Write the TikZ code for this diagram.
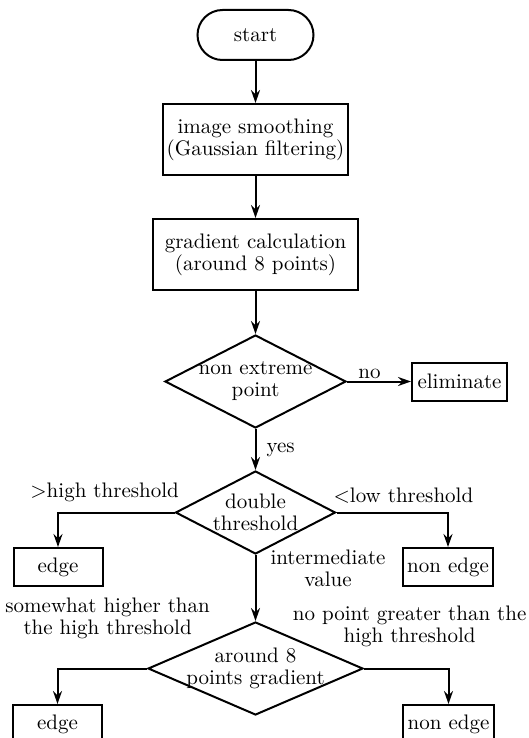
\documentclass[tikz,border=0pt]{standalone}
\usepackage{fontspec}
\usepackage{tikz}
\usetikzlibrary{arrows.meta,positioning,shapes.geometric}
\tikzset{
  term/.style={draw, line width=1pt, rounded corners=12.5pt, minimum width=58pt, minimum height=25pt, inner sep=0pt, align=center},
  procbox/.style={draw, line width=1pt, minimum height=35.5pt, inner sep=2pt, align=center},
  endbox/.style={draw, line width=1pt, minimum height=19pt, inner sep=2pt, align=center},
  decide/.style={draw, line width=1pt, diamond, aspect=2, inner sep=-10pt, align=center},
  arr/.style={-{Stealth[length=6.5pt,width=4.5pt]}, line width=1pt},
  lbl/.style={align=center, inner sep=1pt},
}
\begin{document}
\begin{tikzpicture}[font=\fontsize{10.5}{11}\selectfont, node distance=21pt]
  \useasboundingbox (0,0) rectangle (264.5pt,-369pt);
  \node[term] (start) at (127.75pt,-17.5pt) {start};
  \node[procbox, minimum width=92.5pt, below=of start] (smooth) {image smoothing\\(Gaussian filtering)};
  \node[procbox, minimum width=102.5pt, below=of smooth] (grad) {gradient calculation\\(around 8 points)};
  \node[decide, minimum width=90.5pt, minimum height=46.5pt, below=21.5pt of grad] (extr) {non extreme\\point};
  \node[endbox, minimum width=47.5pt, right=32pt of extr] (elim) {eliminate};
  \node[decide, minimum width=80pt, minimum height=41.5pt, below=20.5pt of extr] (dbl) {double\\threshold};
  \node[decide, minimum width=107.5pt, minimum height=46.5pt, below=33pt of dbl] (nbr) {around 8\\points gradient};
  \node[endbox, minimum width=44.5pt, anchor=north] (edgeA) at (29pt,-273.5pt) {edge};
  \node[endbox, minimum width=45pt, anchor=north] (nonA) at (224pt,-273.5pt) {non edge};
  \node[endbox, minimum width=44.5pt, anchor=north] (edgeB) at (28.75pt,-352pt) {edge};
  \node[endbox, minimum width=45.5pt, anchor=north] (nonB) at (224.25pt,-352pt) {non edge};
  \draw[arr] (start) -- (smooth);
  \draw[arr] (smooth) -- (grad);
  \draw[arr] (grad) -- (extr);
  \draw[arr] (extr) -- node[lbl, above, pos=0.35] (lno) {no} (elim);
  \draw[arr] (extr) -- node[lbl, right=4pt] (lyes) {yes} (dbl);
  \draw[arr] (dbl.west) -| node[lbl, above=4pt, pos=0.3] (lhigh) {>high threshold} (edgeA.north);
  \draw[arr] (dbl.east) -| node[lbl, above=3pt, pos=0.3] (llow) {<low threshold} (nonA.north);
  \draw[arr] (dbl) -- node[lbl, right=6pt, pos=0.2] (lmid) {intermediate\\value} (nbr);
  \draw[arr] (nbr.west) -| node[lbl, above=13.5pt, pos=0.22] (lsome) {somewhat higher than\\the high threshold} (edgeB.north);
  \draw[arr] (nbr.east) -| node[lbl, above=9.5pt, pos=0.27] (lnone) {no point greater than the\\high threshold} (nonB.north);
\end{tikzpicture}
\end{document}
